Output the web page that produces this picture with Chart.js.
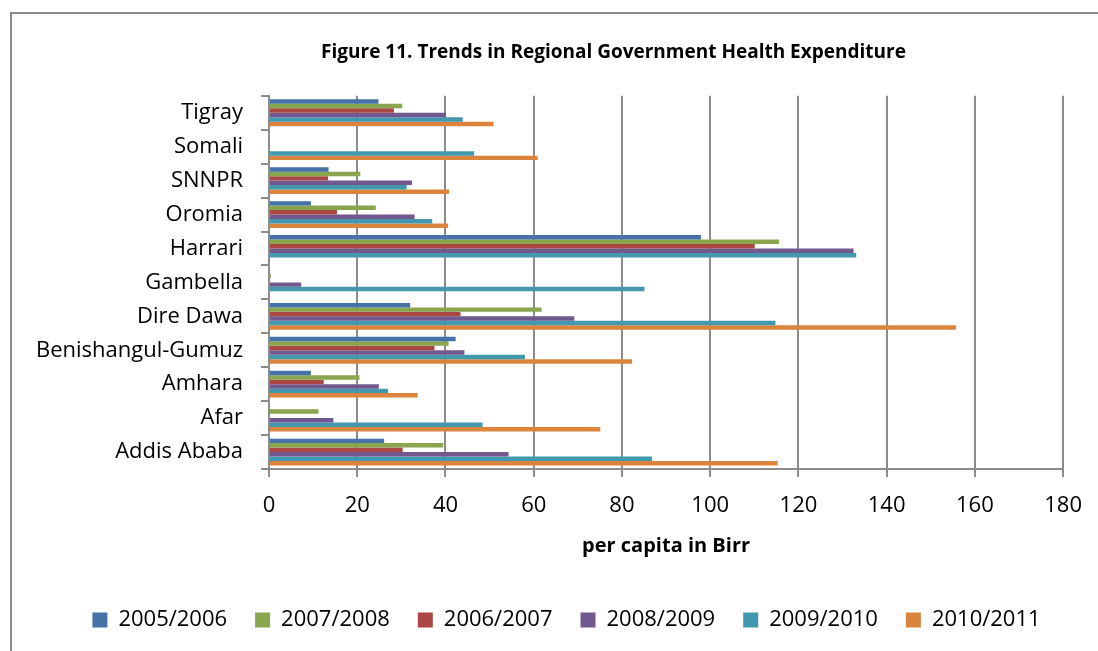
<!DOCTYPE html>
<html>
<head>
<meta charset="utf-8">
<script src="https://cdn.jsdelivr.net/npm/chart.js@4"></script>
<style>
  html, body { margin: 0; padding: 0; background: #fff; overflow: hidden; }
  #frame {
    position: absolute; left: 10px; top: 12px; width: 1200px; height: 800px;
    border: 2px solid #8c8c8c; box-sizing: border-box;
  }
  #wrap { position: absolute; left: 0; top: 0; width: 1098px; height: 651px; }
</style>
</head>
<body>
<div id="frame"></div>
<div id="wrap"><canvas id="chart" width="1098" height="651"></canvas></div>
<script>
// Regions, top to bottom as shown
const regions = ["Tigray", "Somali", "SNNPR", "Oromia", "Harrari", "Gambella",
  "Dire Dawa", "Benishangul-Gumuz", "Amhara", "Afar", "Addis Ababa"];

// per capita in Birr
const y2005_2006 = [24.8, null, 13.5, 9.5, 97.9, null, 32.0, 42.3, 9.5, null, 26.1];
const y2007_2008 = [30.2, null, 20.7, 24.2, 115.6, 0.4, 61.8, 40.7, 20.5, 11.2, 39.5];
const y2006_2007 = [28.3, null, 13.4, 15.4, 110.1, null, 43.4, 37.5, 12.4, null, 30.3];
const y2008_2009 = [40.1, null, 32.4, 33.0, 132.5, 7.3, 69.2, 44.3, 24.9, 14.6, 54.3];
const y2009_2010 = [43.9, 46.5, 31.2, 37.0, 133.1, 85.1, 114.8, 58.0, 27.0, 48.4, 86.8];
const y2010_2011 = [50.9, 60.9, 40.8, 40.6, null, null, 155.7, 82.3, 33.7, 75.1, 115.3];

const seriesLabels = ["2005/2006", "2007/2008", "2006/2007", "2008/2009", "2009/2010", "2010/2011"];
const seriesData = [y2005_2006, y2007_2008, y2006_2007, y2008_2009, y2009_2010, y2010_2011];
const colors = ["#4572A7", "#89A54E", "#AA4643", "#71588F", "#4198AF", "#DB843D"];

const axisGray = "#8c8c8c";

Chart.defaults.font.family = "'Open Sans', sans-serif";
Chart.defaults.color = "#000";

// title and legend are not centred on the canvas in the original
const shiftBlocks = {
  id: "shiftBlocks",
  afterLayout(chart) {
    if (chart.titleBlock) {
      chart.titleBlock.left += 75;
      chart.titleBlock.right += 75;
    }
    if (chart.legend) {
      chart.legend.left += 28;
      chart.legend.right += 28;
    }
  }
};

new Chart(document.getElementById("chart"), {
  type: "bar",
  data: {
    labels: regions,
    datasets: seriesLabels.map((label, i) => ({
      label,
      data: seriesData[i],
      backgroundColor: colors[i],
      borderWidth: 0,
      categoryPercentage: 0.79,
      barPercentage: 1.0
    }))
  },
  options: {
    indexAxis: "y",
    responsive: false,
    animation: false,
    layout: { padding: { left: 10, right: 31, top: 0, bottom: 10 } },
    plugins: {
      title: {
        display: true,
        text: "Figure 11. Trends in Regional Government Health Expenditure",
        font: { size: 19, weight: "bold" },
        padding: { top: 41, bottom: 32 }
      },
      legend: {
        position: "bottom",
        labels: {
          font: { size: 22 },
          boxWidth: 15,
          boxHeight: 15,
          padding: 28
        }
      },
      tooltip: { enabled: false }
    },
    scales: {
      x: {
        min: 0,
        max: 180,
        afterFit(scale) { scale.height = 112; },
        ticks: { stepSize: 20, font: { size: 22 }, padding: 16, maxRotation: 0 },
        grid: { color: axisGray, lineWidth: 2, tickLength: 8 },
        border: { color: axisGray, width: 2 },
        title: {
          display: true,
          text: "per capita in Birr",
          font: { size: 20, weight: "bold" },
          padding: { top: 1, bottom: 23 }
        }
      },
      y: {
        afterFit(scale) { scale.width = 259; },
        ticks: { font: { size: 22 }, padding: 18, autoSkip: false },
        grid: { drawOnChartArea: false, color: axisGray, lineWidth: 2, tickLength: 8, offset: true },
        border: { color: axisGray, width: 2 }
      }
    }
  },
  plugins: [shiftBlocks]
});
</script>
</body>
</html>
